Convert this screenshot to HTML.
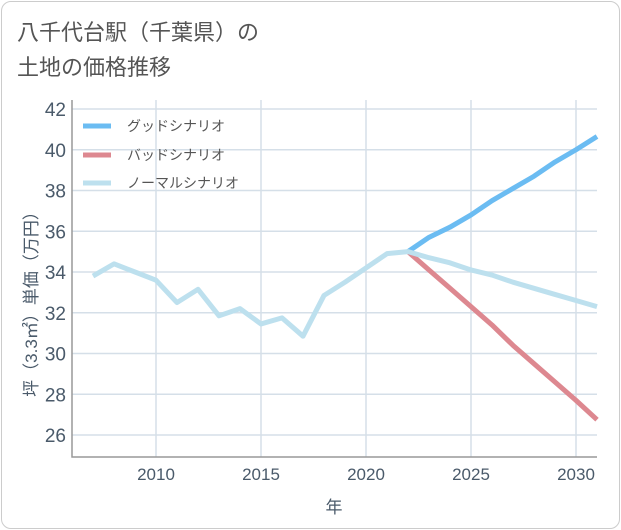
<!DOCTYPE html>
<html><head><meta charset="utf-8"><style>
body{margin:0;background:#fff;font-family:"Liberation Sans","Noto Sans CJK JP",sans-serif;}
#card{position:absolute;left:1px;top:1px;width:617px;height:526px;border:1px solid #ccc;border-radius:10px;background:#fff;}
#title{position:absolute;left:17px;top:15px;font-size:22px;line-height:35px;color:#555;}
svg{position:absolute;left:0;top:0;}
text{font-family:"Liberation Sans","Noto Sans CJK JP",sans-serif;}
</style></head><body>
<div id="card"></div>
<div id="title">八千代台駅（千葉県）の<br>土地の価格推移</div>
<svg id="chart" width="621" height="530"></svg>
<script>
const years=[2007,2008,2009,2010,2011,2012,2013,2014,2015,2016,2017,2018,2019,2020,2021,2022,2023,2024,2025,2026,2027,2028,2029,2030,2031];
const normal=[33.8,34.4,34.0,33.6,32.5,33.15,31.85,32.2,31.45,31.75,30.85,32.85,33.5,34.2,34.9,35.0,34.7,34.45,34.1,33.85,33.5,33.2,32.9,32.6,32.3];
const goodYears=[2022,2023,2024,2025,2026,2027,2028,2029,2030,2031];
const good=[35.0,35.7,36.2,36.8,37.5,38.1,38.7,39.4,40.0,40.65];
const bad=[35.0,34.1,33.2,32.3,31.4,30.4,29.5,28.6,27.7,26.75];
const yTicks=[26,28,30,32,34,36,38,40,42];
const xTicks=[2010,2015,2020,2025,2030];
const L=72,R=597,T=100,B=457;
const x=v=>156+(v-2010)*21;
const y=v=>109+(42-v)*20.375;
const svg=document.getElementById('chart');const NS='http://www.w3.org/2000/svg';
function mk(t,a){const e=document.createElementNS(NS,t);for(const k in a)e.setAttribute(k,a[k]);svg.appendChild(e);return e;}
yTicks.forEach(v=>{const l=mk('line',{x1:L,x2:R,y1:y(v),y2:y(v),stroke:'#d5dfe8','stroke-width':1.5});


const t=mk('text',{x:L-6,y:y(v)+7,'text-anchor':'end','font-size':19,fill:'#4a5a6a'});t.textContent=v;

});
xTicks.forEach(v=>{const l=mk('line',{x1:x(v),x2:x(v),y1:T,y2:B,stroke:'#d5dfe8','stroke-width':1.5});


const t=mk('text',{x:x(v),y:B+23,'text-anchor':'middle','font-size':17,fill:'#4a5a6a'});t.textContent=v;

});
const ax=mk('path',{d:`M${L} ${T} V${B} H${R}`,fill:'none',stroke:'#999','stroke-width':1.5});


function line(xs,vs,c,n){const p=mk('polyline',{points:xs.map((yr,i)=>x(yr)+','+y(vs[i])).join(' '),fill:'none',stroke:c,'stroke-width':5,'stroke-linejoin':'round'});

}
line(goodYears,good,'#6bbcf2','good-scenario-line');
line(goodYears,bad,'#dd8890','bad-scenario-line');
line(years,normal,'#bde0ee','normal-scenario-line');
const leg=[['グッドシナリオ','#6bbcf2',126],['バッドシナリオ','#dd8890',155],['ノーマルシナリオ','#bde0ee',183]];
leg.forEach(([s,c,yy])=>{const l=mk('line',{x1:83,x2:111,y1:yy,y2:yy,stroke:c,'stroke-width':5});


const t=mk('text',{x:127,y:yy+5,'font-size':14,fill:'#555'});t.textContent=s;

});
const xt=mk('text',{x:334,y:513,'text-anchor':'middle','font-size':17,fill:'#4a5a6a'});xt.textContent='年';


const yt=mk('text',{x:0,y:0,'text-anchor':'middle','font-size':17,fill:'#4a5a6a',transform:'translate(37,300) rotate(-90)'});yt.textContent='坪（3.3㎡）単価（万円）';


</script>
</body></html>
